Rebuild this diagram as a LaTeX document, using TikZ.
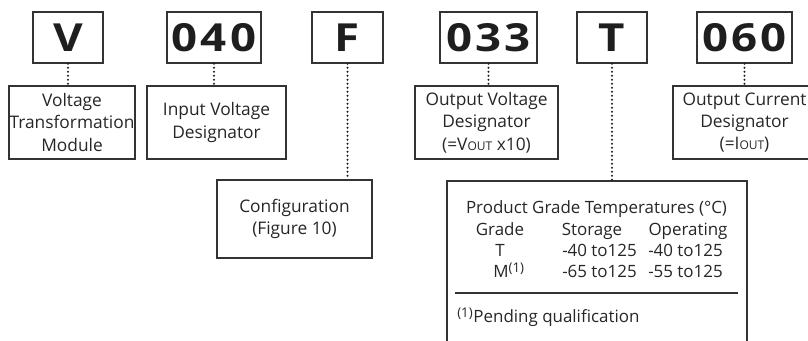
\documentclass[tikz,border=0pt]{standalone}
\usepackage{fontspec}
\setmainfont{Open Sans}
\newfontfamily\codefont[FakeStretch=1.18,LetterSpace=8]{Open Sans}
\definecolor{boxcol}{HTML}{333333}
\definecolor{txtcol}{HTML}{262626}
\definecolor{codecol}{HTML}{1E1E1E}
\begin{document}
\begin{tikzpicture}[x=0.75pt,y=-0.75pt,
  codebox/.style={draw=boxcol, line width=1.1pt, minimum height=38.25pt, inner sep=0pt,
    font=\codefont\bfseries\fontsize{29}{29}\selectfont, text=codecol},
  descbox/.style={draw=boxcol, line width=0.9pt, inner sep=0pt, align=center,
    font=\fontsize{13}{16.8}\selectfont, text=txtcol},
  dotline/.style={draw=codecol, line width=1.6pt, dash pattern=on 0pt off 3pt, line cap=round},
  tbltext/.style={inner sep=0pt, font=\fontsize{12.7}{14}\selectfont, text=txtcol}]
\useasboundingbox (0,0) rectangle (808,341);

% top code boxes
\node[codebox, minimum width=52.5pt]  (cV)   at (68,37.5)    {V};
\node[codebox, minimum width=70.5pt]  (c040) at (214,37.5)   {040};
\node[codebox, minimum width=53.25pt] (cF)   at (347.5,37.5) {F};
\node[codebox, minimum width=72.75pt] (c033) at (488.5,37.5) {033};
\node[codebox, minimum width=52.5pt]  (cT)   at (612,37.5)   {T};
\node[codebox, minimum width=71.25pt] (c060) at (744.5,37.5) {060};

% description boxes
\node[descbox, minimum width=94.5pt, minimum height=54.75pt] (dV) at (72,122.5)
  {Voltage\\Transformation\\Module};
\node[descbox, minimum width=104.25pt, minimum height=54.75pt] (d040) at (216.5,122.5)
  {Input Voltage\\Designator};
\node[descbox, minimum width=116.25pt, minimum height=58.5pt] (dF) at (294.5,219)
  {Configuration\\(Figure 10)};
\node[descbox, minimum width=107.25pt, minimum height=54.75pt] (d033) at (486.5,122.5)
  {Output Voltage\\Designator\\(=V{\fontsize{9}{9}\selectfont OUT} x10)};
\node[descbox, minimum width=107.25pt, minimum height=54.75pt] (d060) at (744.5,122.5)
  {Output Current\\Designator\\(=I{\fontsize{9}{9}\selectfont OUT})};

% table (open at the bottom)
\coordinate (tbl) at (612,181);
\draw[boxcol, line width=0.9pt] (447,350) -- (447,181) -- (747,181) -- (747,350);
\node[tbltext, anchor=base] (ttl) at (596.5,214) {Product Grade Temperatures (°C)};
\node[tbltext, anchor=base] (hG) at (500,236) {Grade};
\node[tbltext, anchor=base] (hS) at (592,236) {Storage};
\node[tbltext, anchor=base] (hO) at (688,236) {Operating};
\node[tbltext, anchor=base] (rT) at (500,257) {T};
\node[tbltext, anchor=base west] (rTs) at (562,257) {-40 to125};
\node[tbltext, anchor=base west] (rTo) at (648,257) {-40 to125};
\node[tbltext, anchor=base west] (rM) at (493,278) {M\textsuperscript{\fontsize{10}{10}\selectfont(1)}};
\node[tbltext, anchor=base west] (rMs) at (562,278) {-65 to125};
\node[tbltext, anchor=base west] (rMo) at (648,278) {-55 to125};
\coordinate (hl1) at (455,293);
\coordinate (hl2) at (738,293);
\draw[boxcol, line width=0.9pt] (hl1) -- (hl2);
\node[tbltext, anchor=base west] (pend) at (457,323) {\textsuperscript{\fontsize{10}{10}\selectfont(1)}Pending qualification};

% dotted connectors
\draw[dotline] (cV.south) -- (cV.south |- dV.north);
\draw[dotline] (c040.south) -- (c040.south |- d040.north);
\draw[dotline] (cF.south) -- (cF.south |- dF.north);
\draw[dotline] (c033.south) -- (c033.south |- d033.north);
\draw[dotline] (cT.south) -- (tbl);
\draw[dotline] (c060.south) -- (c060.south |- d060.north);
\end{tikzpicture}
\end{document}
